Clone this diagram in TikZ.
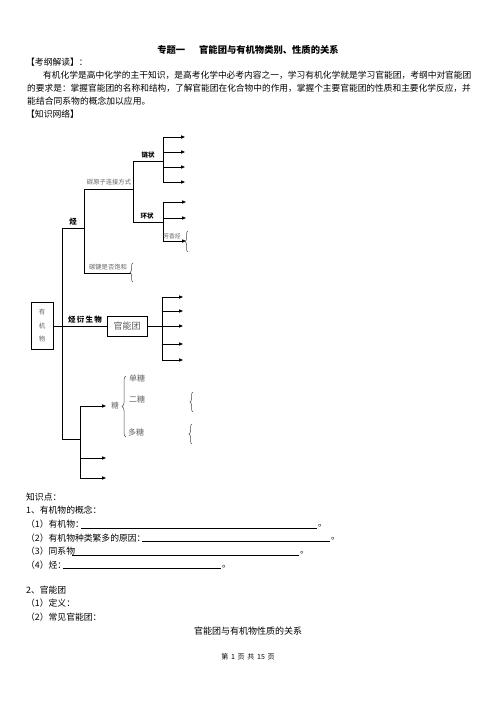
\documentclass[tikz,border=0pt]{standalone}
\usepackage{fontspec}
\setmainfont{Noto Sans CJK SC}
\usetikzlibrary{arrows.meta,decorations.pathreplacing}
\newcommand\fsz[1]{\fontsize{#1}{#1}\selectfont}
\begin{document}
\begin{tikzpicture}[x=1pt,y=-1pt,
  ln/.style={line width=0.8pt},
  arr/.style={line width=0.8pt,-{Triangle[length=4pt,width=3.2pt]}},
  txt/.style={inner sep=0pt,anchor=west,font=\fsz{8.8}},
  lab/.style={inner sep=0pt,font=\fsz{6.3},text=black!60},
  blab/.style={inner sep=0pt,font=\fsz{6.5}\bfseries},
  glab/.style={inner sep=0pt,anchor=west,font=\fsz{8},text=black!60},
  brc/.style={decorate,decoration={brace,amplitude=3pt},line width=0.5pt,draw=black!70},
  ]
\useasboundingbox (0,0) rectangle (496,702);
\fill[white] (0,0) rectangle (496,702);

% ---------- header text ----------
\node[inner sep=0pt,font=\fsz{9.3}\bfseries] (title) at (248,50) {专题一\hspace{14pt}官能团与有机物类别、性质的关系};
\node[txt] (kg) at (26,62) {【考纲解读】：};
\node[txt,font=\fsz{8.74}] (p1) at (43,75) {有机化学是高中化学的主干知识，是高考化学中必考内容之一，学习有机化学就是学习官能团，考纲中对官能团};
\node[txt,font=\fsz{8.7}] (p2) at (27,88) {的要求是：掌握官能团的名称和结构，了解官能团在化合物中的作用，掌握个主要官能团的性质和主要化学反应，并};
\node[txt] (p3) at (27,101) {能结合同系物的概念加以应用。};
\node[txt] (zw) at (26,114) {【知识网络】};

% ---------- diagram ----------
\node[draw,ln,minimum width=22pt,minimum height=47pt,inner sep=0pt,align=center,
      font=\fontsize{6.5}{13.5}\selectfont,text=black!60] (org) at (42,326) {有\\机\\物};
\node[draw,ln,minimum width=40pt,minimum height=20pt,inner sep=0pt,font=\fsz{9},text=black!65] (fg) at (127,326) {官能团};

\coordinate (t1) at (62,228);
\coordinate (t2) at (62,439);
\coordinate (h1) at (84,228);
\coordinate (h1a) at (84,189);
\coordinate (h1b) at (84,273);
\coordinate (c1) at (133,189);
\coordinate (c1a) at (133,161);
\coordinate (c1b) at (133,222);
\coordinate (l1) at (163,161);
\coordinate (l1a) at (163,137);
\coordinate (l1b) at (163,182);
\coordinate (r1) at (163,222);
\coordinate (r1a) at (163,202);
\coordinate (r1b) at (163,241);
\coordinate (s1) at (131,273);
\coordinate (g1) at (162,326);
\coordinate (g1a) at (162,297);
\coordinate (g1b) at (162,360);
\coordinate (u1) at (80,439);
\coordinate (u1a) at (80,406);
\coordinate (u1b) at (80,478);

\draw[ln] (t1) -- (t2);
\draw[ln] (org.east) -- (fg.west);
\draw[ln] (t1) -- (h1);
\draw[ln] (h1a) -- (h1b);
\draw[ln] (h1a) -- (c1);
\draw[ln] (c1a) -- (c1b);
\draw[ln] (c1a) -- (l1);
\draw[ln] (l1a) -- (l1b);
\draw[ln] (c1b) -- (r1);
\draw[ln] (r1a) -- (r1b);
\draw[ln] (h1b) -- (s1);
\draw[ln] (fg.east) -- (g1);
\draw[ln] (g1a) -- (g1b);
\draw[ln] (t2) -- (u1);
\draw[ln] (u1a) -- (u1b);

\foreach \y in {137,152,167,182} \draw[arr] (163,\y) -- ++(22,0);
\foreach \y in {202,218,241} \draw[arr] (163,\y) -- ++(23,0);
\foreach \y in {297,311,326,344,360} \draw[arr] (162,\y) -- ++(21,0);
\foreach \y in {406,458,478} \draw[arr] (80,\y) -- ++(26,0);

% labels
\node[blab] (lz) at (148,155) {链状};
\node[blab] (hz) at (147,216) {环状};
\node[lab] (tyz) at (109,182) {碳原子连接方式};
\node[blab,font=\fsz{7.5}\bfseries] (ting) at (73,222) {烃};
\node[lab,font=\fsz{5.8}] (fxt) at (172,236) {芳香烃};
\node[lab] (tjs) at (108,267) {碳键是否饱和};
\node[blab,font=\fsz{7.5}\bfseries] (ys) at (85,320) {烃\hspace{1.3pt}衍\hspace{1.3pt}生\hspace{1.3pt}物};
\node[lab,font=\fsz{7.5}] (tang) at (115,406) {糖};
\node[glab] (dt) at (129,378) {单糖};
\node[glab] (et) at (129,399) {二糖};
\node[glab] (duo) at (128,432) {多糖};

% braces
\draw[brc] (188,252) -- (188,231);
\draw[brc] (133,282) -- (133,263);
\draw[brc,decoration={brace,amplitude=4pt}] (126,437) -- (126,376);
\draw[brc] (193,412) -- (193,392);
\draw[brc] (192,444) -- (192,424);

% ---------- lower text ----------
\node[txt] (zsd) at (26,497) {知识点：};
\node[txt] (k1) at (26,510) {1、有机物的概念：};
\node[txt] (k11) at (26,524) {（1）有机物：};
\node[txt] (k12) at (26,538) {（2）有机物种类繁多的原因：};
\node[txt] (k13) at (26,551) {（3）同系物};
\node[txt] (k14) at (26,565) {（4）烃：};
\coordinate (b1a) at (81,528); \coordinate (b1b) at (317,528);
\coordinate (b2a) at (142,541); \coordinate (b2b) at (330,541);
\coordinate (b3a) at (72,555); \coordinate (b3b) at (299,555);
\coordinate (b4a) at (63,568); \coordinate (b4b) at (221,568);
\draw[ln] (b1a) -- (b1b);
\draw[ln] (b2a) -- (b2b);
\draw[ln] (b3a) -- (b3b);
\draw[ln] (b4a) -- (b4b);
\node[txt] (d1) at (318,526) {。};
\node[txt] (d2) at (331,539) {。};
\node[txt] (d3) at (300,553) {。};
\node[txt] (d4) at (222,567) {。};

\node[txt] (k2) at (26,590) {2、官能团};
\node[txt] (k21) at (26,603) {（1）定义：};
\node[txt] (k22) at (26,617) {（2）常见官能团：};
\node[inner sep=0pt,font=\fsz{9}] (gx) at (248,631) {官能团与有机物性质的关系};
\node[inner sep=0pt,font=\fsz{7}] (foot) at (248,657) {第\, 1\, 页\, 共\, 15\, 页};
\end{tikzpicture}
\end{document}
